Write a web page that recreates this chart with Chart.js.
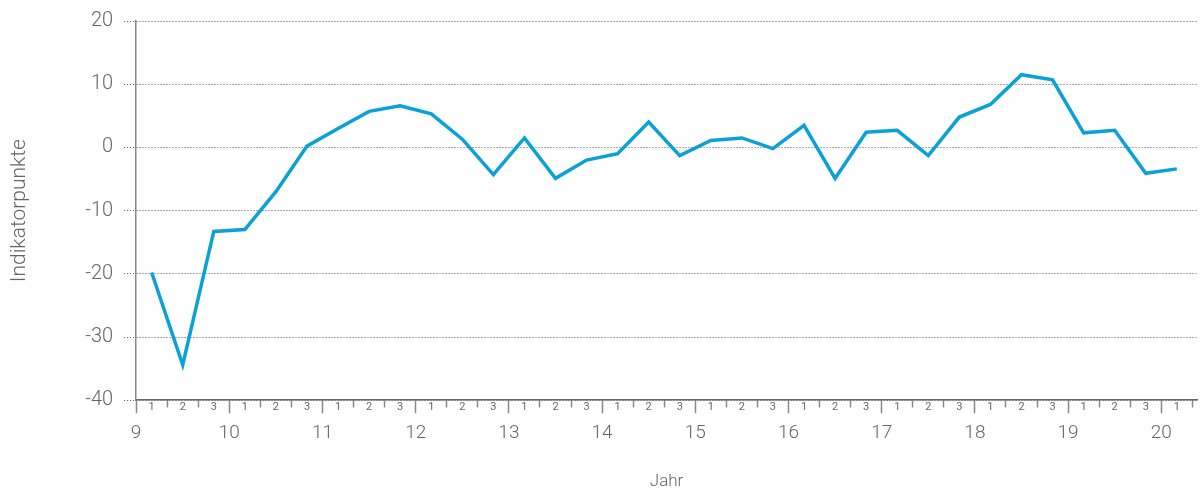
<!DOCTYPE html>
<html>
<head>
<meta charset="utf-8">
<script src="https://cdn.jsdelivr.net/npm/chart.js@4"></script>
<style>
  html, body { margin: 0; padding: 0; background: #fff; }
  #wrap { width: 1203px; height: 490px; }
</style>
</head>
<body>
<div id="wrap"><canvas id="chart"></canvas></div>
<script>
// Werte je Periode (3 Perioden pro Jahr), von 9/1 bis 20/1
const values = [
  -19.8, -34.4, -13.3, -13.0, -7.0, 0.2, 3.0, 5.7, 6.6, 5.3,
  1.3, -4.3, 1.5, -4.9, -2.0, -1.0, 4.0, -1.3, 1.1, 1.5,
  -0.2, 3.5, -4.9, 2.4, 2.7, -1.3, 4.8, 6.8, 11.5, 10.7,
  2.3, 2.7, -4.1, -3.4
];
const periodLabels = ['1', '2', '3'];
const firstYear = 9;
const yearTicks = [9, 10, 11, 12, 13, 14, 15, 16, 17, 18, 19, 20];
const yTicks = [-40, -30, -20, -10, 0, 10, 20];

const xMax = 34.15;
const grey = '#666';
const font = '"Roboto", "Noto Sans", sans-serif';

const points = values.map((v, i) => ({ x: i + 0.5, y: v }));

// Teilstriche an den Periodengrenzen, Beschriftung in der Mitte
const xTickValues = [];
for (let i = 0; i <= values.length * 2; i++) xTickValues.push(i / 2);

const isWhole = v => Math.abs(v - Math.round(v)) < 1e-6;

new Chart(document.getElementById('chart'), {
  type: 'line',
  data: {
    datasets: [{
      label: 'Indikator',
      data: points,
      borderColor: '#0aa0d8',
      borderWidth: 3.5,
      pointRadius: 0,
      tension: 0,
      fill: false
    }]
  },
  options: {
    responsive: true,
    maintainAspectRatio: false,
    animation: false,
    layout: { padding: { top: 4, right: 6, left: 7, bottom: 0 } },
    plugins: { legend: { display: false }, tooltip: { enabled: false } },
    scales: {
      x: {
        type: 'linear',
        position: 'bottom',
        weight: 0,
        min: 0,
        max: xMax,
        afterBuildTicks: axis => { axis.ticks = xTickValues.map(v => ({ value: v })); },
        afterFit: axis => { axis.height = 14; },
        border: { display: true, color: grey, width: 1.5 },
        grid: {
          drawOnChartArea: false,
          tickLength: 13,
          tickWidth: 1.5,
          tickColor: ctx => isWhole(ctx.tick.value) ? '#888' : 'rgba(0,0,0,0)',
          tickBorderDash: ctx => (Math.round(ctx.tick.value) % 3 === 0) ? [] : [7, 40]
        },
        ticks: {
          autoSkip: false,
          maxRotation: 0,
          padding: -11,
          color: '#666',
          font: { family: font, size: 11, lineHeight: 1 },
          callback: v => isWhole(v) ? '' : periodLabels[Math.floor(v) % 3]
        }
      },
      x2: {
        type: 'linear',
        position: 'bottom',
        weight: 1,
        min: firstYear,
        max: firstYear + xMax / 3,
        border: { display: false },
        grid: { display: false },
        afterBuildTicks: axis => { axis.ticks = yearTicks.map(v => ({ value: v })); },
        ticks: {
          autoSkip: false,
          maxRotation: 0,
          padding: 0,
          color: grey,
          font: { family: font, size: 19, weight: 300 }
        },
        title: {
          display: true,
          text: 'Jahr',
          color: grey,
          font: { family: font, size: 17, weight: 300, lineHeight: 1 },
          padding: { top: 28, bottom: 0 }
        }
      },
      y: {
        min: -40,
        max: 20,
        afterBuildTicks: axis => { axis.ticks = yTicks.map(v => ({ value: v })); },
        border: { display: true, color: '#888', width: 1.5, dash: [1, 2] },
        grid: {
          color: '#555',
          lineWidth: 1,
          tickLength: 12,
          tickColor: '#555',
          tickBorderDash: [1, 2]
        },
        ticks: {
          padding: 11,
          color: grey,
          font: { family: font, size: 20, weight: 300, lineHeight: 1 }
        },
        title: {
          display: true,
          text: 'Indikatorpunkte',
          color: grey,
          font: { family: font, size: 21, weight: 300 },
          padding: { top: 0, bottom: 42 }
        }
      }
    }
  }
});
</script>
</body>
</html>
